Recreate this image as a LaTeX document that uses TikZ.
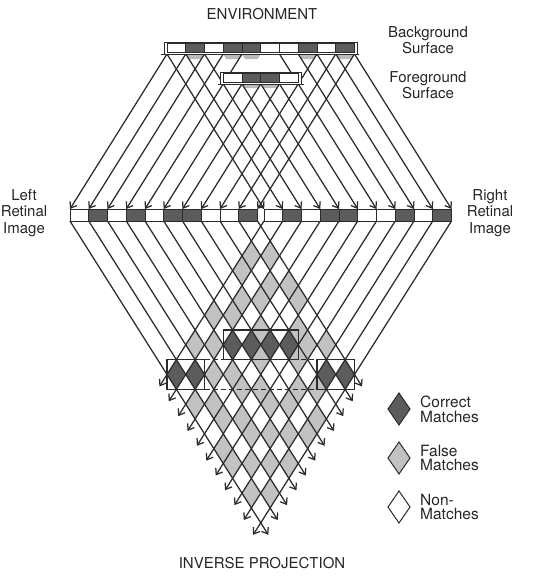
\documentclass[tikz,border=0pt]{standalone}
\usepackage{fontspec}
\setmainfont{TeX Gyre Heros}
\usetikzlibrary{arrows.meta}
\definecolor{dkc}{gray}{0.36}
\definecolor{ltc}{gray}{0.76}
\definecolor{lnc}{gray}{0.17}
\definecolor{shc}{gray}{0.55}
\begin{document}
\begin{tikzpicture}[x=1pt,y=-1pt,
  ray/.style={draw=lnc, line width=1.25pt},
  arr/.style={ray, -{Straight Barb[length=5.5pt,width=8pt]}},
  cellbox/.style={draw=lnc, line width=0.9pt},
  boxline/.style={draw=lnc, line width=1.5pt},
  lbl/.style={font=\fontsize{15}{16.5}\selectfont, align=center, inner sep=0pt, text=black!85},
  leg/.style={font=\fontsize{15.5}{14.7}\selectfont, align=left, inner sep=0pt, anchor=west, text=black!85},
  legd/.style={draw=lnc, line width=1pt}
]
\useasboundingbox (0,0) rectangle (544,579);
\def\w{18.75}
\def\s{0.632}
\def\st{0.6258}
% ---------- lower lattice fills ----------
\foreach \i in {0,...,9}{
  \foreach \j in {0,...,9}{
    \pgfmathtruncatemacro\a{{0,1,0,1,0,1,1,0,0,1}[\i]}
    \pgfmathtruncatemacro\b{{0,1,0,1,1,0,0,1,0,1}[\j]}
    \pgfmathtruncatemacro\corr{((\i==\j)&&((\i<2)||(\i>7)))||((\j==\i-2)&&(\i>3)&&(\i<8))}
    \pgfmathsetmacro\cx{167+(\i+\j+1)*\w/2}
    \pgfmathsetmacro\cy{221+(194+(\j-\i)*\w)/(2*\s)}
    \pgfmathsetmacro\hh{\w/(2*\s)}
    \ifnum\corr=1 \def\fc{dkc}\else\ifnum\a=\b \def\fc{ltc}\else\def\fc{white}\fi\fi
    \fill[\fc] (\cx-\w/2,\cy) -- (\cx,\cy-\hh) -- (\cx+\w/2,\cy) -- (\cx,\cy+\hh) -- cycle;
  }
}
% ---------- lower lines (inverse projection) ----------
\foreach \k in {0,...,10}{
  \coordinate (Lb\k) at (70+\k*\w,221);
  \coordinate (Rb\k) at (264+\k*\w,221);
  \pgfmathsetmacro\dyl{(194+(10-\k)*\w)/(2*\s)+12}
  \pgfmathsetmacro\dyr{(194+\k*\w)/(2*\s)+12}
  \coordinate (Le\k) at (70+\k*\w+\s*\dyl,221+\dyl);
  \coordinate (Re\k) at (264+\k*\w-\s*\dyr,221+\dyr);
  \draw[arr] (Lb\k) -- (Le\k);
  \draw[arr] (Rb\k) -- (Re\k);
}
% ---------- boxes around correct matches ----------
\coordinate (fbA) at (223.25,330.2); \coordinate (fbB) at (298.25,359.6);
\coordinate (lbA) at (167,359.6); \coordinate (lbB) at (204.5,389.3);
\coordinate (rbA) at (317,359.6); \coordinate (rbB) at (354.5,389.3);
\draw[boxline] (fbA) rectangle (fbB);
\draw[boxline] (lbA) rectangle (lbB);
\draw[boxline] (rbA) rectangle (rbB);
\coordinate (dA) at (204.5,359.6); \coordinate (dB) at (317,359.6);
\coordinate (dC) at (204.5,389.3); \coordinate (dD) at (317,389.3);
\draw[boxline, line width=1.2pt, dash pattern=on 5pt off 3pt] (dA) -- (dB);
\draw[boxline, line width=1.2pt, dash pattern=on 5pt off 3pt] (dC) -- (dD);
% ---------- faint shading under dark surface cells ----------
\foreach \c in {1,3,4,7,9}{
  \fill[shc!60] (167+\c*\w,54) -- (167+\c*\w+\w,54) -- (167+\c*\w+\w-5*\st,59) -- (167+\c*\w+5*\st,59) -- cycle;
}
\foreach \c in {1,2}{
  \fill[shc!60] (223.25+\c*\w,84) -- (223.25+\c*\w+\w,84) -- (223.25+\c*\w+\w-4*\st,88) -- (223.25+\c*\w+4*\st,88) -- cycle;
}
% ---------- upper rays ----------
\foreach \k in {0,...,10}{
  \coordinate (Bb\k) at (167+\k*\w,54);
  \coordinate (Lt\k) at (70+\k*\w,209);
  \coordinate (Rt\k) at (264+\k*\w,209);
}
\foreach \m in {0,...,4}{
  \coordinate (Fb\m) at (223.25+\m*\w,84);
}
\foreach \k in {0,1,2,3,4,8,9,10}{ \draw[arr] (Bb\k) -- (Lt\k); }
\foreach \k in {0,1,2,6,7,8,9,10}{ \draw[arr] (Bb\k) -- (Rt\k); }
\foreach \m/\t in {1/5,2/6,3/7}{ \draw[arr] (Fb\m) -- (Lt\t); }
\foreach \m/\t in {1/3,2/4,3/5}{ \draw[arr] (Fb\m) -- (Rt\t); }
% ---------- surfaces ----------
\draw[lnc, line width=1pt, fill=white] (164,42) rectangle (357,54);
\draw[lnc, line width=1pt] (161,54.5) -- (359,54.5);
\foreach \c/\d in {0/0,1/1,2/0,3/1,4/1,5/0,6/0,7/1,8/0,9/1}{
  \ifnum\d=1 \def\fc{dkc}\else\def\fc{white}\fi
  \draw[cellbox, fill=\fc] (167+\c*\w,43.5) rectangle (167+\c*\w+\w,52.5);
}
\draw[lnc, line width=1pt, fill=white] (220.5,72) rectangle (301,84);
\draw[lnc, line width=1pt] (218,84.5) -- (303.5,84.5);
\foreach \c/\d in {0/0,1/1,2/1,3/0}{
  \ifnum\d=1 \def\fc{dkc}\else\def\fc{white}\fi
  \draw[cellbox, fill=\fc] (223.25+\c*\w,73.5) rectangle (223.25+\c*\w+\w,82.5);
}
% ---------- retinal images ----------
\foreach \c/\d in {0/0,1/1,2/0,3/1,4/0,5/1,6/1,7/0,8/0,9/1}{
  \ifnum\d=1 \def\fc{dkc}\else\def\fc{white}\fi
  \draw[cellbox, fill=\fc] (70+\c*\w,209) rectangle (70+\c*\w+\w,221);
}
\foreach \c/\d in {0/0,1/1,2/0,3/1,4/1,5/0,6/0,7/1,8/0,9/1}{
  \ifnum\d=1 \def\fc{dkc}\else\def\fc{white}\fi
  \draw[cellbox, fill=\fc] (264+\c*\w,209) rectangle (264+\c*\w+\w,221);
}
% ---------- labels ----------
\node[lbl] (env) at (262,14) {ENVIRONMENT};
\node[lbl] (bgs) at (428,40) {Background\\Surface};
\node[lbl] (fgs) at (428,85) {Foreground\\Surface};
\node[lbl] (lri) at (24,213) {Left\\Retinal\\Image};
\node[lbl] (rri) at (490,213) {Right\\Retinal\\Image};
\node[lbl] (inv) at (262,563) {INVERSE PROJECTION};
% ---------- legend ----------
\filldraw[legd, fill=dkc] (388,409) -- (399,393) -- (410,409) -- (399,425) -- cycle;
\filldraw[legd, fill=ltc] (388,458) -- (399,442) -- (410,458) -- (399,474) -- cycle;
\filldraw[legd, fill=white] (388,507) -- (399,491) -- (410,507) -- (399,523) -- cycle;
\node[leg] (l1) at (420,409) {Correct\\Matches};
\node[leg] (l2) at (420,458) {False\\Matches};
\node[leg] (l3) at (420,507) {Non-\\Matches};
\end{tikzpicture}
\end{document}
